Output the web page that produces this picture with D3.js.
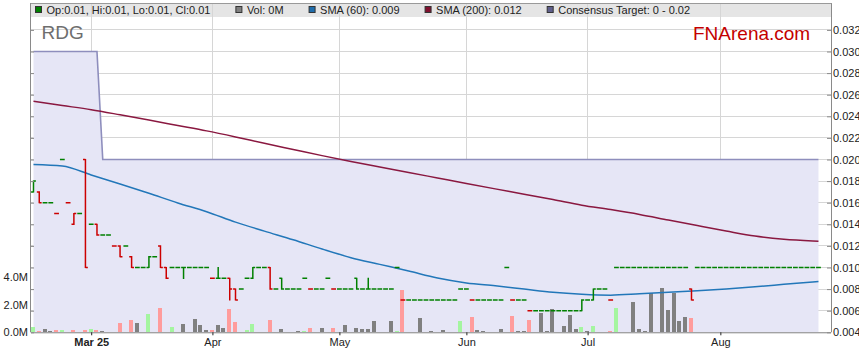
<!DOCTYPE html>
<html>
<head>
<meta charset="utf-8">
<script src="https://cdn.jsdelivr.net/npm/d3@7"></script>
<style>
  body { margin: 0; background: #fff; }
  svg { display: block; font-family: "Liberation Sans", Arial, sans-serif; }
</style>
</head>
<body>
<div id="chart"></div>
<script>
// day index 0 = 17 Feb 2025, one slot per weekday
const monthTickDays = [10, 31, 53, 75, 96, 119];
const monthTickLabels = ["Mar 25", "Apr", "May", "Jun", "Jul", "Aug"];
const priceTicks = [0.004, 0.006, 0.008, 0.010, 0.012, 0.014, 0.016, 0.018, 0.020, 0.022, 0.024, 0.026, 0.028, 0.030, 0.032];
const volTicks = [0, 2, 4]; // millions

const opens = [
  0.017,0.017,0.016,0.016,0.015,0.020,0.016,0.014,0.015,0.020,
  0.014,0.014,0.013,0.013,0.012,0.012,0.012,0.011,0.010,0.010,
  0.010,0.011,0.012,0.010,0.010,0.010,0.010,0.010,0.010,0.010,
  0.010,0.009,0.009,0.009,0.009,0.008,0.008,0.009,0.009,0.010,
  0.010,0.010,0.008,0.009,0.008,0.008,0.008,0.009,0.008,0.008,
  0.008,0.009,0.008,0.008,0.008,0.008,0.009,0.008,0.008,0.008,
  0.008,0.008,0.008,0.010,0.007,0.007,0.007,0.007,0.007,0.007,
  0.007,0.007,0.007,0.007,0.008,0.008,0.007,0.007,0.007,0.007,
  0.007,0.007,0.010,0.007,0.007,0.007,0.006,0.006,0.006,0.006,
  0.006,0.006,0.006,0.006,0.006,0.006,0.007,0.007,0.008,0.008,
  0.007,0.010,0.010,0.010,0.010,0.010,0.010,0.010,0.010,0.010,
  0.010,0.010,0.010,0.010,0.008,0.010,0.010,0.010,0.010,0.010,
  0.010,0.010,0.010,0.010,0.010,0.010,0.010,0.010,0.010,0.010,
  0.010,0.010,0.010,0.010,0.010,0.010,0.010
];
const highs = [
  0.018,0.017,0.016,0.016,0.015,0.020,0.016,0.015,0.015,0.020,
  0.014,0.014,0.013,0.013,0.012,0.012,0.012,0.011,0.010,0.010,
  0.011,0.011,0.012,0.010,0.010,0.010,0.010,0.010,0.010,0.010,
  0.010,0.009,0.010,0.009,0.009,0.008,0.008,0.009,0.010,0.010,
  0.010,0.010,0.008,0.009,0.008,0.008,0.008,0.009,0.008,0.008,
  0.008,0.009,0.008,0.008,0.008,0.008,0.009,0.008,0.009,0.008,
  0.008,0.008,0.008,0.010,0.007,0.007,0.007,0.007,0.007,0.007,
  0.007,0.007,0.007,0.007,0.008,0.008,0.007,0.007,0.007,0.007,
  0.007,0.007,0.010,0.007,0.007,0.007,0.006,0.006,0.006,0.006,
  0.006,0.006,0.006,0.006,0.006,0.007,0.007,0.008,0.008,0.008,
  0.007,0.010,0.010,0.010,0.010,0.010,0.010,0.010,0.010,0.010,
  0.010,0.010,0.010,0.010,0.008,0.010,0.010,0.010,0.010,0.010,
  0.010,0.010,0.010,0.010,0.010,0.010,0.010,0.010,0.010,0.010,
  0.010,0.010,0.010,0.010,0.010,0.010,0.010
];
const lows = [
  0.017,0.016,0.016,0.016,0.015,0.020,0.016,0.014,0.015,0.010,
  0.014,0.013,0.013,0.013,0.012,0.011,0.012,0.010,0.010,0.010,
  0.010,0.011,0.010,0.009,0.010,0.010,0.009,0.010,0.010,0.010,
  0.010,0.009,0.009,0.009,0.007,0.007,0.008,0.009,0.009,0.010,
  0.010,0.008,0.008,0.008,0.008,0.008,0.008,0.009,0.008,0.008,
  0.008,0.009,0.008,0.008,0.008,0.008,0.008,0.008,0.008,0.008,
  0.008,0.008,0.008,0.010,0.007,0.007,0.007,0.007,0.007,0.007,
  0.007,0.007,0.007,0.007,0.008,0.008,0.007,0.007,0.007,0.007,
  0.007,0.007,0.010,0.007,0.007,0.007,0.006,0.006,0.006,0.006,
  0.006,0.006,0.006,0.006,0.006,0.006,0.007,0.007,0.008,0.008,
  0.007,0.010,0.010,0.010,0.010,0.010,0.010,0.010,0.010,0.010,
  0.010,0.010,0.010,0.010,0.007,0.010,0.010,0.010,0.010,0.010,
  0.010,0.010,0.010,0.010,0.010,0.010,0.010,0.010,0.010,0.010,
  0.010,0.010,0.010,0.010,0.010,0.010,0.010
];
const closes = [
  0.018,0.016,0.016,0.016,0.015,0.020,0.016,0.015,0.015,0.010,
  0.014,0.013,0.013,0.013,0.012,0.011,0.012,0.010,0.010,0.010,
  0.011,0.011,0.010,0.009,0.010,0.010,0.010,0.010,0.010,0.010,
  0.010,0.009,0.009,0.009,0.008,0.007,0.008,0.009,0.010,0.010,
  0.010,0.008,0.008,0.008,0.008,0.008,0.008,0.009,0.008,0.008,
  0.008,0.009,0.008,0.008,0.008,0.008,0.008,0.008,0.008,0.008,
  0.008,0.008,0.008,0.010,0.007,0.007,0.007,0.007,0.007,0.007,
  0.007,0.007,0.007,0.007,0.008,0.008,0.007,0.007,0.007,0.007,
  0.007,0.007,0.010,0.007,0.007,0.007,0.006,0.006,0.006,0.006,
  0.006,0.006,0.006,0.006,0.006,0.007,0.007,0.008,0.008,0.008,
  0.007,0.010,0.010,0.010,0.010,0.010,0.010,0.010,0.010,0.010,
  0.010,0.010,0.010,0.010,0.007,0.010,0.010,0.010,0.010,0.010,
  0.010,0.010,0.010,0.010,0.010,0.010,0.010,0.010,0.010,0.010,
  0.010,0.010,0.010,0.010,0.010,0.010,0.010
];
// volume, millions of shares
const volumes = [
  0.38,0.10,0.24,0.10,0.17,0.17,0.05,0.17,0,0.17,
  0.24,0.17,0.10,0,0,0.70,0,0.89,0.67,0,
  1.32,0,1.75,0,0.38,0,0.60,0,0.96,0.53,
  0.17,0.17,0.53,0.31,1.68,0.74,0,0.17,0.60,0,
  0,0.89,0,0.24,0,0,0.10,0.07,0.31,0,
  0.31,0,0.31,0,0.53,0,0.31,0.24,0.24,0.82,
  0,0,0.82,0.10,3.05,0,0,1.03,0,0.10,
  0,0.17,0,0,0.82,0,1.10,0.17,0.10,0,
  0,0.24,0,1.17,0.10,0.10,0.89,0,1.39,0.10,
  1.68,0,0.46,1.25,0.24,0.38,0.10,0.46,0,0,
  0.10,1.75,0,0,2.18,0.24,0.10,2.80,0,3.19,
  1.60,2.85,0.82,1.10,1.03,0,0,0,0,0,
  0,0,0,0,0,0,0,0,0,0,
  0,0,0,0,0,0,0
];

const smaDays = [0,5,10,15,20,25,30,35,40,45,50,55,60,65,70,75,80,85,90,95,100,105,110,115,120,125,130,135,136];
const sma60 = [0.01954,0.01940,0.01857,0.01773,0.01687,0.01598,0.01517,0.01420,0.01337,0.01257,
  0.01171,0.01091,0.01029,0.00967,0.00902,0.00857,0.00830,0.00800,0.00770,0.00752,
  0.00744,0.00756,0.00770,0.00784,0.00801,0.00822,0.00844,0.00866,0.00870];
const sma200 = [0.02539,0.02500,0.02461,0.02414,0.02365,0.02315,0.02265,0.02209,0.02150,0.02093,
  0.02036,0.01981,0.01930,0.01880,0.01829,0.01778,0.01728,0.01679,0.01629,0.01577,
  0.01536,0.01491,0.01439,0.01388,0.01338,0.01291,0.01261,0.01246,0.01244];

const targetDays = [0, 11, 12, 136];
const targetHigh = [0.030, 0.030, 0.020, 0.020];
const targetLow = [0, 0, 0, 0];

const legendLabels = ["Op:0.01, Hi:0.01, Lo:0.01, Cl:0.01", "Vol: 0M", "SMA (60): 0.009", "SMA (200): 0.012", "Consensus Target: 0 - 0.02"];
const legendColors = ["#008000", "#808080", "#1f6dac", "#80102e", "#5f5f8c"];

const width = 859, height = 363;
const plotLeft = 31, plotRight = 831, plotTop = 3, plotBottom = 332.3;

const svg = d3.select("#chart").append("svg")
  .attr("width", width)
  .attr("height", height);

const x = d3.scaleLinear().domain([-0.43, 138.17]).range([plotLeft, plotRight]);
const y = d3.scaleLinear().domain([0.004, 0.032]).range([plotBottom, 29.9]);
const yVol = d3.scaleLinear().domain([0, 4]).range([plotBottom, 276.7]);

svg.append("defs").append("clipPath").attr("id", "plotClip")
  .append("rect").attr("x", plotLeft).attr("y", plotTop)
  .attr("width", plotRight - plotLeft).attr("height", plotBottom - plotTop);

// legend band
svg.append("rect")
  .attr("x", plotLeft).attr("y", plotTop)
  .attr("width", plotRight - plotLeft).attr("height", 14)
  .attr("fill", "#e5e5e5");

// grid
svg.append("g")
  .attr("stroke", "#d6d6d6")
  .attr("stroke-width", 1)
  .attr("shape-rendering", "crispEdges")
  .call(g => g.selectAll("line.h").data(priceTicks).join("line")
    .attr("class", "h")
    .attr("x1", plotLeft).attr("x2", plotRight)
    .attr("y1", d => y(d)).attr("y2", d => y(d)))
  .call(g => g.selectAll("line.v").data(monthTickDays).join("line")
    .attr("class", "v")
    .attr("x1", d => x(d)).attr("x2", d => x(d))
    .attr("y1", plotTop).attr("y2", plotBottom));

const plot = svg.append("g").attr("clip-path", "url(#plotClip)");

// consensus target band
const target = targetDays.map((d, i) => ({ day: d, hi: targetHigh[i], lo: targetLow[i] }));
plot.append("path")
  .datum(target)
  .attr("fill", "#e6e6f6")
  .attr("d", d3.area().x(d => x(d.day)).y0(d => y(d.lo)).y1(d => y(d.hi)));
plot.append("path")
  .datum(target)
  .attr("fill", "none")
  .attr("stroke", "#8e8ebd")
  .attr("stroke-width", 1.6)
  .attr("d", d3.line().x(d => x(d.day)).y(d => y(d.hi)));

// days
const days = closes.map((c, i) => ({
  i,
  o: opens[i], h: highs[i], l: lows[i], c,
  v: volumes[i],
  dir: i === 0 ? 1 : Math.sign(Math.round((c - closes[i - 1]) * 1e6))
}));

// volume bars
plot.append("g")
  .attr("shape-rendering", "crispEdges")
  .selectAll("rect")
  .data(days.filter(d => d.v > 0))
  .join("rect")
  .attr("x", d => x(d.i) - 2.5)
  .attr("width", 4)
  .attr("y", d => yVol(d.v))
  .attr("height", d => yVol(0) - yVol(d.v))
  .attr("fill", d => d.dir > 0 ? "#a4f5a0" : d.dir < 0 ? "#ff9c9c" : "#808080");

// moving averages
const smaLine = vals => d3.line()
  .curve(d3.curveMonotoneX)
  .x((d, i) => x(smaDays[i]))
  .y(d => y(d))(vals);

plot.append("path")
  .attr("fill", "none")
  .attr("stroke", "#8a1840")
  .attr("stroke-width", 1.5)
  .attr("d", smaLine(sma200));

plot.append("path")
  .attr("fill", "none")
  .attr("stroke", "#2277b9")
  .attr("stroke-width", 1.5)
  .attr("d", smaLine(sma60));

// OHLC bars
plot.append("g")
  .attr("fill", "none")
  .attr("stroke-width", 1.5)
  .selectAll("path")
  .data(days)
  .join("path")
  .attr("stroke", d => d.dir < 0 ? "#cc0000" : "#008000")
  .attr("d", d => {
    const xi = x(d.i);
    return `M${xi - 2.4},${y(d.o)}H${xi}M${xi},${y(d.h) - 0.6}V${y(d.l) + 0.6}M${xi},${y(d.c)}H${xi + 2.4}`;
  });

// axes
const axisStyle = g => {
  g.selectAll(".domain").attr("stroke", "#8a8a8a");
  g.selectAll(".tick line").attr("stroke", "#8a8a8a");
  g.selectAll("text").attr("fill", "#222").attr("font-size", 11)
    .attr("font-family", "'Liberation Sans', Arial, sans-serif");
};

svg.append("g")
  .attr("transform", `translate(${plotRight},0)`)
  .call(d3.axisRight(y).tickValues(priceTicks).tickSize(-4).tickSizeOuter(0).tickPadding(2)
    .tickFormat(d3.format(".3f")))
  .call(axisStyle)
  .call(g => g.select(".domain").attr("d", `M0.5,${plotTop}V${plotBottom}`));

svg.append("g")
  .attr("transform", `translate(${plotLeft},0)`)
  .call(d3.axisLeft(y).tickValues(priceTicks).tickSize(-3).tickSizeOuter(0).tickFormat(""))
  .call(axisStyle)
  .call(g => g.select(".domain").attr("d", `M-0.5,${plotTop}V${plotBottom}`));

svg.append("g")
  .attr("transform", `translate(${plotLeft},0)`)
  .call(d3.axisLeft(yVol).tickValues(volTicks).tickSize(0).tickPadding(3)
    .tickFormat(d => d.toFixed(1) + "M"))
  .call(axisStyle)
  .call(g => g.select(".domain").remove());

svg.append("g")
  .attr("transform", `translate(0,${plotBottom})`)
  .call(d3.axisBottom(x).tickValues(monthTickDays).tickSize(3).tickSizeOuter(0).tickPadding(3)
    .tickFormat((d, i) => monthTickLabels[i]))
  .call(axisStyle)
  .call(g => g.select(".domain").attr("d", `M${plotLeft},0.5H${plotRight}`))
  .call(g => g.selectAll(".tick line").attr("stroke", "#222"))
  .call(g => g.selectAll(".tick text").filter((d, i) => i === 0).attr("font-weight", "bold"));

// top frame line
svg.append("line")
  .attr("x1", plotLeft).attr("x2", plotRight + 0.5)
  .attr("y1", plotTop + 0.5).attr("y2", plotTop + 0.5)
  .attr("stroke", "#9a9a9a");

// legend
let lx = 35;
legendLabels.forEach((label, i) => {
  svg.append("rect")
    .attr("x", lx + 0.5).attr("y", 6.5)
    .attr("width", 6).attr("height", 6)
    .attr("fill", legendColors[i])
    .attr("stroke", "#333")
    .attr("stroke-width", 1);
  const t = svg.append("text")
    .attr("x", lx + 11.5).attr("y", 14.3)
    .attr("font-size", 11)
    .attr("fill", "#222")
    .text(label);
  lx = lx + 11.5 + t.node().getComputedTextLength() + 25;
});

// titles
svg.append("text")
  .attr("x", 41.5).attr("y", 39.3)
  .attr("font-size", 19)
  .attr("fill", "#6e6e6e")
  .text("RDG");

svg.append("text")
  .attr("x", 693).attr("y", 40)
  .attr("font-size", 19)
  .attr("fill", "#c40000")
  .text("FNArena.com");
</script>
</body>
</html>
